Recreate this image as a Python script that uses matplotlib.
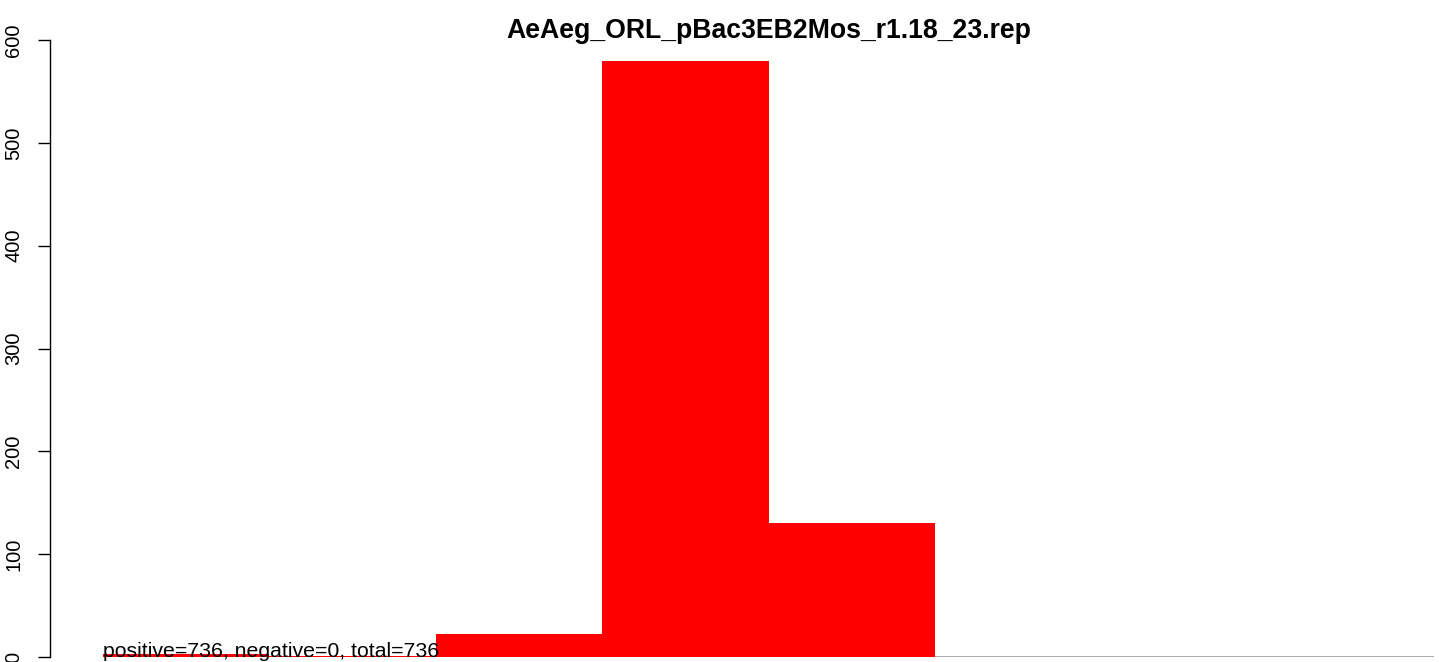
import numpy as np
import matplotlib.pyplot as plt

plt.rcParams['font.family'] = ['Liberation Sans', 'DejaVu Sans']

title = "AeAeg_ORL_pBac3EB2Mos_r1.18_23.rep"
counts = [3, 1, 22, 580, 130, 0, 0, 0]
n_pos, n_neg = 736, 0
y_ticks = [0, 100, 200, 300, 400, 500, 600]

W, H = 1439, 662
PT = 0.72  # points per pixel at 100 dpi
fig = plt.figure(figsize=(W / 100, H / 100), dpi=100)
ymax = 620
x0, x1 = 103, 1434
ybot = 657
ytop = ybot - ymax * (617 / 600)
ax = fig.add_axes([x0 / W, (H - ybot) / H, (x1 - x0) / W, (ybot - ytop) / H])

x = np.arange(len(counts))
ax.bar(x, counts, width=1.0, align='edge', color='#ff0000', linewidth=0, zorder=2)
ax.axhline(0, color='#a6a6a6', lw=1.3, zorder=1)
ax.set_xlim(0, len(counts))
ax.set_ylim(0, ymax)

for s in ['top', 'right', 'bottom']:
    ax.spines[s].set_visible(False)
ax.spines['left'].set_position(('outward', 53 * PT))
ax.spines['left'].set_bounds(0, 600)
ax.spines['left'].set_linewidth(1.0)
ax.set_xticks([])
ax.set_yticks(y_ticks)
ax.set_yticklabels([str(v) for v in y_ticks], rotation=90, va='center', fontsize=14.5)
ax.tick_params(axis='y', length=12 * PT, width=1.0, pad=15 * PT)

ax.text(0, 0, f"positive={n_pos}, negative={n_neg}, total={n_pos + n_neg}",
        fontsize=15.3, ha='left', va='baseline', zorder=3, clip_on=False)
fig.text((x0 + x1) / 2 / W, 1 - 38 / H, title, fontsize=19.2, fontweight='bold',
         ha='center', va='baseline')

fig.savefig('out.png', dpi=100)
